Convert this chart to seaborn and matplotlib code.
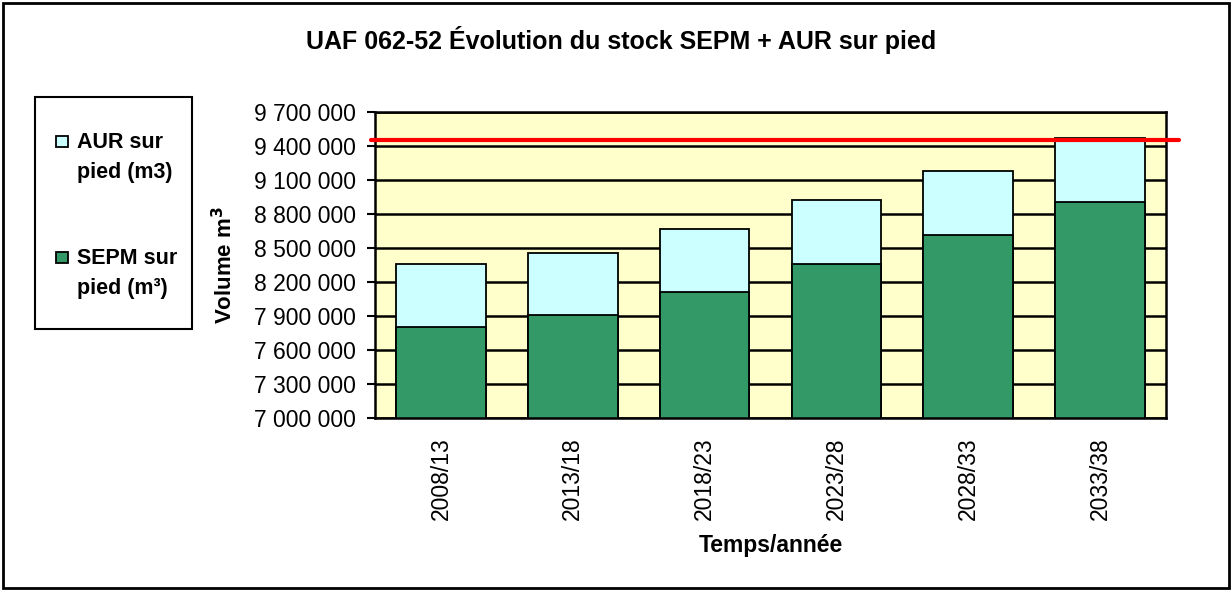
import numpy as np
import pandas as pd
import matplotlib
matplotlib.use("Agg")
import matplotlib.pyplot as plt
import seaborn as sns
from matplotlib.patches import Rectangle

# data
periods = ["2008/13", "2013/18", "2018/23", "2023/28", "2028/33", "2033/38"]
sepm = [7805000, 7908000, 8114000, 8356000, 8612000, 8904000]
aur = [554000, 551000, 551000, 569000, 569000, 569000]
limit = 9450000
yticks = [7000000, 7300000, 7600000, 7900000, 8200000, 8500000,
          8800000, 9100000, 9400000, 9700000]
legend_labels = ["AUR sur\npied (m3)", "SEPM sur\npied (m³)"]

AUR_COL = "#CCFFFF"
SEPM_COL = "#339966"

sns.set_style("white")
plt.rcParams["font.family"] = ["Liberation Sans", "DejaVu Sans"]
for k in ["text.color", "axes.labelcolor", "xtick.color", "ytick.color"]:
    plt.rcParams[k] = "black"

df = pd.DataFrame({"periode": periods, "sepm": sepm,
                   "total": np.array(sepm) + np.array(aur)})

W, H = 1231, 590
fig = plt.figure(figsize=(W / 100, H / 100), dpi=100)
ax = fig.add_axes([375 / W, 1 - 418 / H, 791 / W, 306 / H])
ax.set_facecolor("#FFFFCC")

# stacked bars: total (AUR on top) first, SEPM drawn over it
sns.barplot(data=df, x="periode", y="total", color=AUR_COL, saturation=1,
            edgecolor="black", linewidth=1.3, width=0.68, ax=ax)
sns.barplot(data=df, x="periode", y="sepm", color=SEPM_COL, saturation=1,
            edgecolor="black", linewidth=1.3, width=0.68, ax=ax)

ax.set_ylim(7000000, 9700000)
ax.set_xlim(-0.5, len(periods) - 0.5)
ax.set_yticks(yticks)
ax.set_yticklabels([f"{v:,}".replace(",", " ") for v in yticks], fontsize=16.5)
ax.yaxis.grid(True, color="black", linewidth=1.8)
ax.set_axisbelow(True)

ax.set_xticks(np.arange(len(periods)))
ax.set_xticklabels(periods, rotation=90, fontsize=16.5)
ax.tick_params(axis="x", length=0, pad=14)
ax.set_xticks(np.arange(len(periods) + 1) - 0.5, minor=True)
ax.tick_params(axis="x", which="minor", length=6, width=1.5, direction="out")
ax.tick_params(axis="y", length=6, width=1.5, direction="out", left=True, pad=8)

for s in ax.spines.values():
    s.set_color("black")
    s.set_linewidth(1.8)

# red reference line, slightly overhanging the plot area
ax.plot([-0.005, 1.016], [limit, limit], color="red", linewidth=3,
        transform=ax.get_yaxis_transform(), clip_on=False, zorder=5)

ax.set_xlabel("Temps/année", fontsize=16.5, fontweight="bold", labelpad=10)
ax.set_ylabel("Volume m$^\\mathbf{3}$", fontsize=16, fontweight="bold", labelpad=12)

fig.text(621 / W, 1 - 40 / H, "UAF 062-52 Évolution du stock SEPM + AUR sur pied",
         ha="center", va="center", fontsize=18, fontweight="bold")

# legend box on the left
fig.patches.append(Rectangle((35 / W, 1 - 329 / H), 157 / W, 232 / H,
                             transform=fig.transFigure, fill=False,
                             edgecolor="black", linewidth=1.5))
for col, lab, top in zip([AUR_COL, SEPM_COL], legend_labels, [136, 252]):
    fig.patches.append(Rectangle((56 / W, 1 - (top + 11) / H), 12 / W, 11 / H,
                                 transform=fig.transFigure, facecolor=col,
                                 edgecolor="black", linewidth=1.3))
    fig.text(77 / W, 1 - (top - 4) / H, lab, ha="left", va="top",
             fontsize=15.5, fontweight="bold", linespacing=1.55)

# outer frame
fig.patches.append(Rectangle((3 / W, 2 / H), 1226 / W, 585 / H,
                             transform=fig.transFigure, fill=False,
                             edgecolor="black", linewidth=2))

fig.savefig("out.png", dpi=100)
